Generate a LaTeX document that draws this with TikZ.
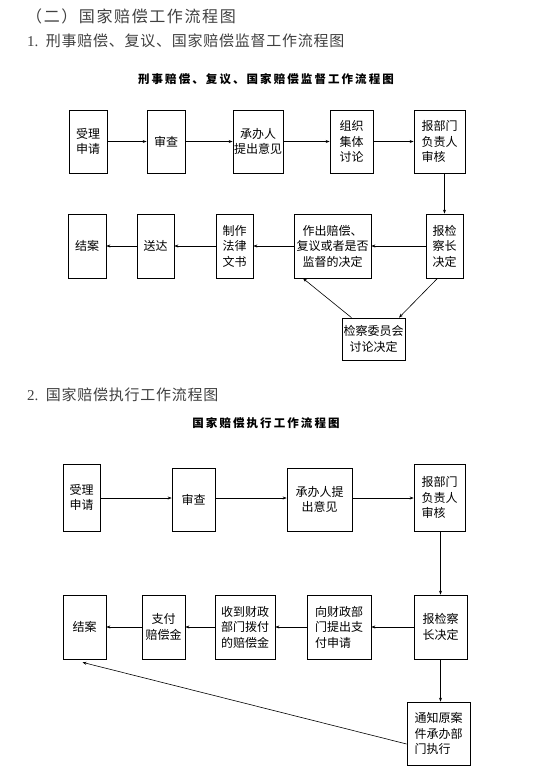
\documentclass[tikz,border=0pt]{standalone}
\usepackage{fontspec}
\setmainfont{Liberation Serif}
\newfontfamily\cjk{Noto Sans CJK SC}
\newfontfamily\cjkhA[LetterSpace=10]{Noto Sans CJK SC}
\newfontfamily\cjkhB[LetterSpace=5]{Noto Sans CJK SC}
\newfontfamily\cjkt[LetterSpace=18]{Noto Sans CJK SC}
\usetikzlibrary{arrows.meta,calc}
\tikzset{
  box/.style={draw, line width=0.7pt, inner sep=1pt, align=center,
    font=\cjk\fontsize{12}{15.5}\selectfont},
  conn/.style={-{Stealth[length=4pt,width=3pt]}, line width=0.6pt},
  head/.style={anchor=west, inner sep=0pt, text=black!75},
  ttl/.style={inner sep=0pt, font=\cjkt\bfseries\fontsize{11.5}{14}\selectfont}
}
\begin{document}
\begin{tikzpicture}[x=1pt,y=-1pt]
\useasboundingbox (0,0) rectangle (555,769);
% headings
\node[head, font=\cjkhA\fontsize{16}{18}\selectfont] (h0) at (26,16) {（二）国家赔偿工作流程图};
\node[head, font=\fontsize{15}{18}\selectfont] (h1) at (27,40.5) {1.\hspace{0.5em}{\cjkhB 刑事赔偿、复议、国家赔偿监督工作流程图}};
\node[head, font=\fontsize{15}{18}\selectfont] (h2) at (27,395) {2.\hspace{0.5em}{\cjkhB 国家赔偿执行工作流程图}};
\node[ttl] (t1) at (266,79) {刑事赔偿、复议、国家赔偿监督工作流程图};
\node[ttl] (t2) at (266,423) {国家赔偿执行工作流程图};

% diagram 1
\node[box, minimum width=38pt, minimum height=63pt] (a1) at (88,141.5) {受理\\申请};
\node[box, minimum width=38pt, minimum height=63pt] (a2) at (166,141.5) {审查};
\node[box, minimum width=50pt, minimum height=63pt] (a3) at (258,141.5) {承办人\\提出意见};
\node[box, minimum width=43pt, minimum height=63pt] (a4) at (351.5,141.5) {组织\\集体\\讨论};
\node[box, minimum width=51pt, minimum height=63pt, align=left] (a5) at (439.5,141.5) {报部门\\负责人\\审核};
\node[box, minimum width=38pt, minimum height=64pt] (b1) at (87,246) {结案};
\node[box, minimum width=37pt, minimum height=64pt] (b2) at (155.5,246) {送达};
\node[box, minimum width=37pt, minimum height=64pt] (b3) at (234.5,246) {制作\\法律\\文书};
\node[box, minimum width=77pt, minimum height=64pt] (b4) at (332.5,246) {作出赔偿、\\复议或者是否\\监督的决定};
\node[box, minimum width=37pt, minimum height=64pt] (b5) at (444.5,246) {报检\\察长\\决定};
\node[box, minimum width=63pt, minimum height=42pt] (c) at (373.5,339) {检察委员会\\讨论决定};

\draw[conn] (a1) -- (a2);
\draw[conn] (a2) -- (a3);
\draw[conn] (a3) -- (a4);
\draw[conn] (a4) -- (a5);
\draw[conn] (a5.south -| b5.north) -- (b5.north);
\draw[conn] (b5) -- (b4);
\draw[conn] (b4) -- (b3);
\draw[conn] (b3) -- (b2);
\draw[conn] (b2) -- (b1);
\draw[conn] ($(b5.south)+(-7,0)$) -- ($(c.north)+(25.5,0)$);
\draw[conn] ($(c.north)+(-22,0)$) -- ($(b4.south)+(-29.5,0)$);

% diagram 2
\node[box, minimum width=37pt, minimum height=67pt] (d1) at (81.5,497.5) {受理\\申请};
\node[box, minimum width=43pt, minimum height=63pt] (d2) at (193.5,499.5) {审查};
\node[box, minimum width=65pt, minimum height=63pt] (d3) at (319.5,499.5) {承办人提\\出意见};
\node[box, minimum width=51pt, minimum height=67pt, align=left] (d4) at (439.5,497.5) {报部门\\负责人\\审核};
\node[box, minimum width=43pt, minimum height=64pt] (e1) at (84.5,627) {结案};
\node[box, minimum width=43pt, minimum height=64pt] (e2) at (163.5,627) {支付\\赔偿金};
\node[box, minimum width=60pt, minimum height=64pt] (e3) at (245,627) {收到财政\\部门拨付\\的赔偿金};
\node[box, minimum width=64pt, minimum height=64pt, align=left] (e4) at (339,627) {向财政部\\门提出支\\付申请};
\node[box, minimum width=53pt, minimum height=64pt] (e5) at (440.5,627) {报检察\\长决定};
\node[box, minimum width=63pt, minimum height=63pt, align=left] (f) at (438.5,733.5) {通知原案\\件承办部\\门执行};

\draw[conn] (d1.east |- 0,498) -- (d2.west |- 0,498);
\draw[conn] (d2.east |- 0,498) -- (d3.west |- 0,498);
\draw[conn] (d3.east |- 0,498) -- (d4.west |- 0,498);
\draw[conn] (d4.south -| e5.north) -- (e5.north);
\draw[conn] (e5) -- (e4);
\draw[conn] (e4) -- (e3);
\draw[conn] (e3) -- (e2);
\draw[conn] (e2) -- (e1);
\draw[conn] (e5.south) -- (e5.south |- f.north);
\draw[conn] ($(f.west)+(0,10.5)$) -- ($(e1.south)+(-2,3)$);
\end{tikzpicture}
\end{document}
